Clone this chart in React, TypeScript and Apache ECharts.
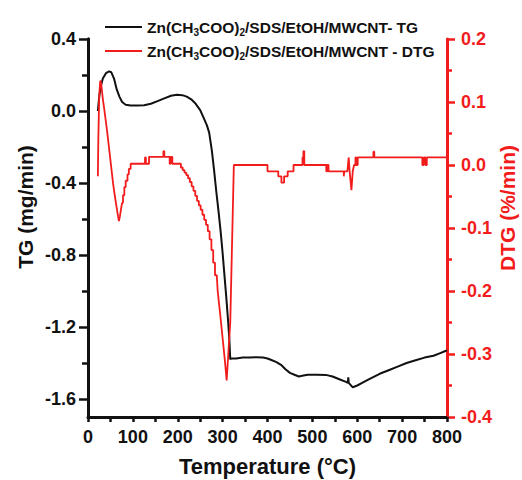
import React, { useEffect, useRef } from "react";
import * as echarts from "echarts";

const tgTemp = [22, 25, 28, 33, 40, 47, 52, 58, 64, 70, 76, 84, 95, 110, 125, 140, 155, 170, 185, 198, 210, 220, 230, 240, 250, 258, 265, 270, 276, 281, 286, 291, 296, 300, 304, 308, 312, 315, 317, 319, 330, 345, 360, 375, 390, 400, 410, 420, 430, 440, 450, 460, 470, 480, 490, 510, 530, 545, 560, 575, 579, 580, 581, 590, 600, 615, 630, 650, 670, 690, 710, 730, 750, 770, 785, 795, 800];
const tgValue = [0.0, 0.08, 0.13, 0.18, 0.21, 0.22, 0.215, 0.18, 0.12, 0.08, 0.05, 0.035, 0.03, 0.03, 0.032, 0.04, 0.055, 0.07, 0.085, 0.09, 0.088, 0.08, 0.065, 0.04, 0.005, -0.04, -0.08, -0.12, -0.22, -0.33, -0.45, -0.56, -0.68, -0.79, -0.91, -1.03, -1.16, -1.27, -1.38, -1.375, -1.375, -1.37, -1.37, -1.368, -1.37, -1.375, -1.385, -1.395, -1.41, -1.435, -1.455, -1.465, -1.475, -1.47, -1.465, -1.465, -1.466, -1.475, -1.49, -1.505, -1.51, -1.48, -1.51, -1.535, -1.525, -1.505, -1.485, -1.46, -1.44, -1.42, -1.4, -1.385, -1.37, -1.36, -1.345, -1.335, -1.33];

const dtgTemp = [22, 23, 25, 27, 28, 30, 33, 36, 40, 44, 48, 52, 56, 60, 64, 67, 69, 71, 74, 76, 78, 78, 81, 81, 84, 84, 88, 88, 91, 91, 95, 95, 127, 127, 129, 129, 136, 136, 168, 168, 170, 170, 182, 182, 184, 184, 188, 188, 207, 207, 211, 211, 215, 215, 219, 219, 223, 223, 227, 227, 231, 231, 235, 235, 239, 239, 243, 243, 247, 247, 251, 251, 255, 255, 259, 259, 263, 263, 267, 267, 271, 271, 275, 275, 279, 279, 283, 283, 287, 289, 295, 300, 305, 309, 317, 325, 400, 400, 424, 424, 431, 431, 437, 437, 445, 445, 458, 458, 478, 478, 480, 480, 482, 482, 531, 531, 533, 533, 536, 536, 570, 570, 571, 571, 578, 581, 583, 587, 590, 593, 596, 596, 598, 598, 601, 601, 636, 636, 638, 638, 745, 745, 748, 748, 752, 752, 755, 755, 800];
const dtgValue = [-0.018, 0.04, 0.11, 0.131, 0.134, 0.125, 0.105, 0.09, 0.068, 0.045, 0.02, -0.005, -0.03, -0.05, -0.068, -0.082, -0.089, -0.082, -0.068, -0.06, -0.06, -0.048, -0.048, -0.035, -0.035, -0.025, -0.025, -0.015, -0.015, -0.006, -0.006, 0.002, 0.002, 0.012, 0.012, 0.002, 0.002, 0.013, 0.013, 0.022, 0.022, 0.013, 0.013, 0.002, 0.002, 0.013, 0.013, 0.002, 0.002, -0.004, -0.004, -0.008, -0.008, -0.012, -0.012, -0.016, -0.016, -0.021, -0.021, -0.027, -0.027, -0.034, -0.034, -0.041, -0.041, -0.049, -0.049, -0.057, -0.057, -0.064, -0.064, -0.071, -0.071, -0.079, -0.079, -0.087, -0.087, -0.095, -0.095, -0.105, -0.105, -0.118, -0.118, -0.135, -0.135, -0.155, -0.155, -0.175, -0.175, -0.2, -0.24, -0.275, -0.31, -0.342, -0.25, 0.0, 0.0, -0.01, -0.01, -0.018, -0.018, -0.028, -0.028, -0.018, -0.018, -0.01, -0.01, 0.0, 0.0, 0.012, 0.012, 0.022, 0.022, 0.0, 0.0, -0.01, -0.01, 0.0, 0.0, -0.01, -0.01, -0.018, -0.018, -0.01, -0.01, 0.012, -0.01, -0.04, -0.01, 0.0, 0.0, 0.012, 0.012, 0.0, 0.0, 0.012, 0.012, 0.021, 0.021, 0.012, 0.012, 0.0, 0.0, 0.012, 0.012, 0.0, 0.0, 0.012, 0.012];

const tgLabelValues = [-1.6, -1.2, -0.8, -0.4, 0, 0.4];
const tgMinorValues = [-1.4, -1.0, -0.6, -0.2, 0.2];
const seriesNames = ["Zn(CH3COO)2/SDS/EtOH/MWCNT- TG", "Zn(CH3COO)2/SDS/EtOH/MWCNT - DTG"];
const xTitle = "Temperature (°C)";
const tgTitle = "TG (mg/min)";
const dtgTitle = "DTG (%/min)";

const FONT = "Liberation Sans, Arial, sans-serif";
const RED = "#f21c1c";
const BLACK = "#111111";

function zip(a: number[], b: number[]) {
  return a.map((t, i) => [t, b[i]]);
}

function legendRich(name: string) {
  const m = name.match(/^Zn\(CH3COO\)2(.*)$/);
  if (!m) return name;
  return `{n|Zn(CH}{s|3}{n|COO)}{s|2}{n|${m[1]}}`;
}

export default function App() {
  const ref = useRef<HTMLDivElement>(null);
  useEffect(() => {
    const chart = echarts.init(ref.current!, null, { renderer: "svg" });
    const labelStyle = { fontFamily: FONT, fontWeight: "bold" as const, fontSize: 18 };
    chart.setOption({
      animation: false,
      backgroundColor: "#ffffff",
      grid: { left: 88, right: 75, top: 39, bottom: 63, containLabel: false, outerBoundsMode: "none" },
      legend: {
        orient: "vertical",
        left: 100,
        top: 14,
        icon: "rect",
        itemWidth: 37,
        itemHeight: 2,
        itemGap: 6,
        data: seriesNames,
        formatter: legendRich,
        textStyle: {
          color: BLACK,
          rich: {
            n: { fontFamily: FONT, fontWeight: "bold", fontSize: 15.5, color: BLACK, lineHeight: 20 },
            s: { fontFamily: FONT, fontWeight: "bold", fontSize: 10, color: BLACK, lineHeight: 10, verticalAlign: "bottom" },
          },
        },
      },
      xAxis: {
        type: "value",
        min: 0,
        max: 800,
        interval: 100,
        name: xTitle,
        nameLocation: "middle",
        nameGap: 38,
        nameMoveOverlap: false,
        nameTextStyle: { fontFamily: FONT, fontWeight: "bold", fontSize: 22, color: BLACK },
        axisLine: { show: true, onZero: false, lineStyle: { color: BLACK, width: 3 } },
        axisTick: { show: true, length: 5, lineStyle: { color: BLACK, width: 2.5 } },
        minorTick: { show: true, splitNumber: 2, length: 5, lineStyle: { color: BLACK, width: 2.5 } },
        axisLabel: { ...labelStyle, color: BLACK, margin: 11 },
        splitLine: { show: false },
      },
      yAxis: [
        {
          type: "value",
          position: "left",
          min: -1.7,
          max: 0.4,
          name: tgTitle,
          nameLocation: "middle",
          nameGap: 52,
          nameMoveOverlap: false,
          nameTextStyle: { fontFamily: FONT, fontWeight: "bold", fontSize: 21, color: BLACK, padding: [0, 0, 0, 42] },
          axisLine: { show: true, onZero: false, lineStyle: { color: BLACK, width: 3 } },
          axisTick: { show: true, customValues: tgLabelValues, length: 9, lineStyle: { color: BLACK, width: 2.5 } },
          axisLabel: {
            ...labelStyle,
            color: BLACK,
            margin: 12,
            customValues: tgLabelValues,
            formatter: (v: number) => v.toFixed(1),
          },
          splitLine: { show: false },
        },
        {
          type: "value",
          position: "right",
          min: -0.4,
          max: 0.2,
          interval: 0.1,
          name: dtgTitle,
          nameLocation: "middle",
          nameGap: 50,
          nameMoveOverlap: false,
          nameTextStyle: { fontFamily: FONT, fontWeight: "bold", fontSize: 21, color: RED, padding: [0, 0, 0, 40] },
          axisLine: { show: true, onZero: false, lineStyle: { color: RED, width: 3 } },
          axisTick: { show: true, length: 8, lineStyle: { color: RED, width: 2.5 } },
          minorTick: { show: true, splitNumber: 2, length: 5, lineStyle: { color: RED, width: 2.5 } },
          axisLabel: { ...labelStyle, color: RED, margin: 14, formatter: (v: number) => v.toFixed(1) },
          splitLine: { show: false },
        },
        {
          type: "value",
          position: "left",
          min: -1.7,
          max: 0.4,
          axisLine: { show: true, onZero: false, lineStyle: { color: BLACK, width: 3 } },
          axisTick: { show: true, customValues: tgMinorValues, length: 6, lineStyle: { color: BLACK, width: 2.5 } },
          axisLabel: { show: false },
          splitLine: { show: false },
        },
      ],
      series: [
        {
          name: seriesNames[0],
          type: "line",
          yAxisIndex: 0,
          symbol: "none",
          data: zip(tgTemp, tgValue),
          lineStyle: { color: BLACK, width: 2 },
          itemStyle: { color: BLACK },
        },
        {
          name: seriesNames[1],
          type: "line",
          yAxisIndex: 1,
          symbol: "none",
          data: zip(dtgTemp, dtgValue),
          lineStyle: { color: RED, width: 1.8 },
          itemStyle: { color: RED },
        },
      ],
    });
    return () => chart.dispose();
  }, []);
  return <div ref={ref} style={{ position: "absolute", left: 0, top: 0, width: 522, height: 480 }} />;
}
